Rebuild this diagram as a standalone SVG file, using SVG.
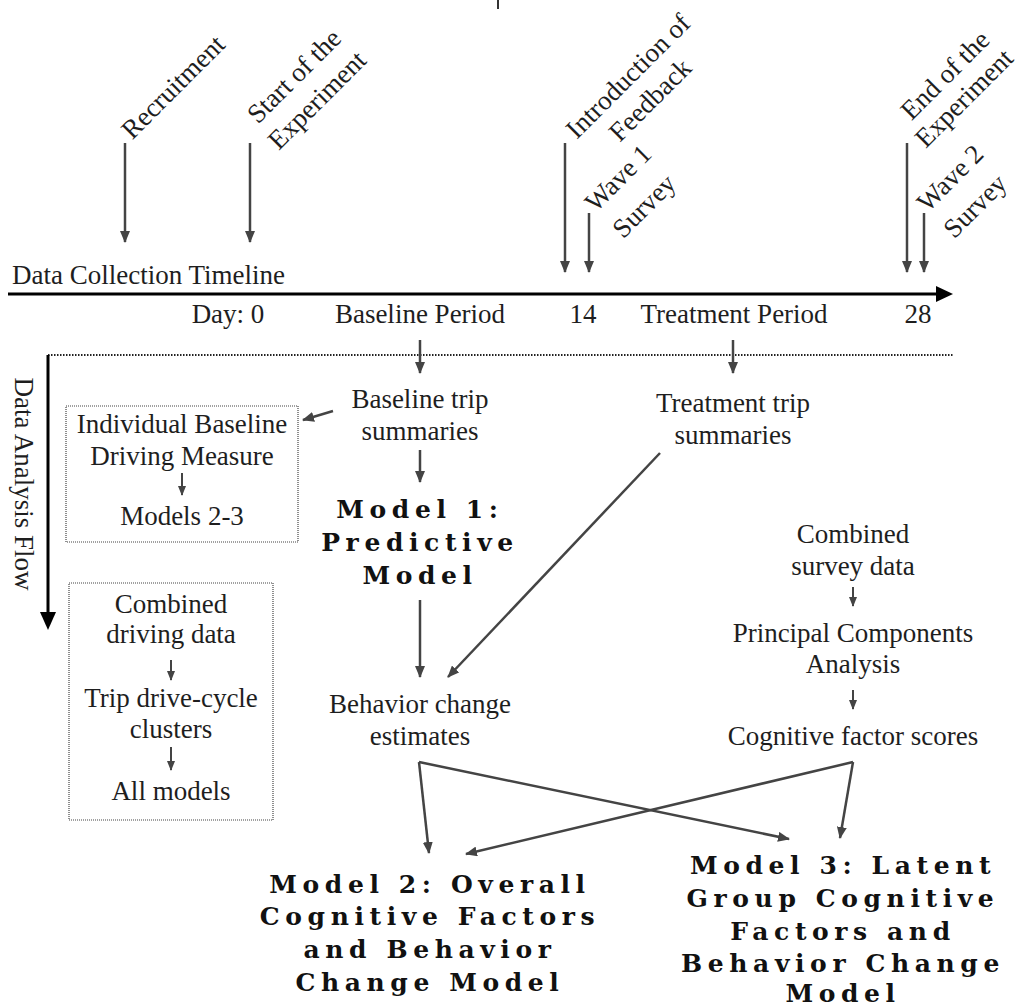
<svg xmlns="http://www.w3.org/2000/svg" width="1020" height="1008" viewBox="0 0 1020 1008">
<style>
text{font-family:"Liberation Serif","Times New Roman",serif;font-size:27px;fill:#1e1e1e}
.c{text-anchor:middle}
.b{font-family:"DejaVu Serif",serif;font-weight:bold;font-size:25px;letter-spacing:5.6px;text-anchor:middle;fill:#111}
.ar{stroke:#444;stroke-width:2.5;fill:none;marker-end:url(#ah)}
.sm{stroke:#444;stroke-width:2;fill:none;marker-end:url(#as)}
.box{fill:none;stroke:#444;stroke-width:1.2;stroke-dasharray:1 1}
</style>
<defs>
<marker id="ah" viewBox="0 0 12 10" markerWidth="12" markerHeight="10" refX="11" refY="5" orient="auto" markerUnits="userSpaceOnUse">
<path d="M0,0 L12,5 L0,10 z" fill="#444"/>
</marker>
<marker id="as" viewBox="0 0 10 8" markerWidth="10" markerHeight="8" refX="9" refY="4" orient="auto" markerUnits="userSpaceOnUse">
<path d="M0,0 L10,4 L0,8 z" fill="#444"/>
</marker>
</defs>
<rect width="1020" height="1008" fill="#fff"/>

<g id="connectors">
<line x1="498" y1="0" x2="498" y2="9" stroke="#333" stroke-width="2"/>
<!-- timeline axis -->
<line x1="8" y1="294" x2="938" y2="294" stroke="#000" stroke-width="3"/>
<polygon points="936,286 953,294 936,302" fill="#000"/>
<!-- event arrows -->
<line class="ar" x1="125" y1="143" x2="125" y2="242"/>
<line class="ar" x1="250" y1="143" x2="250" y2="242"/>
<line class="ar" x1="565" y1="143" x2="565" y2="272"/>
<line class="ar" x1="589" y1="213" x2="589" y2="272"/>
<line class="ar" x1="907" y1="143" x2="907" y2="272"/>
<line class="ar" x1="924" y1="213" x2="924" y2="272"/>
<!-- dotted separator and analysis flow arrow -->
<line x1="48" y1="355" x2="953" y2="355" stroke="#222" stroke-width="2" stroke-dasharray="1.5 1.5"/>
<line x1="48" y1="355" x2="48" y2="614" stroke="#000" stroke-width="3"/>
<polygon points="40,612 48,630 56,612" fill="#000"/>
<!-- period arrows -->
<line class="ar" x1="420" y1="340" x2="420" y2="373"/>
<line class="ar" x1="733" y1="340" x2="733" y2="373"/>
<!-- analysis flow -->
<line class="ar" x1="333" y1="411" x2="303" y2="420"/>
<line class="ar" x1="420" y1="450" x2="420" y2="482"/>
<line class="ar" x1="420" y1="600" x2="420" y2="677"/>
<line class="ar" x1="660" y1="453" x2="448" y2="677"/>
<line class="sm" x1="182" y1="473" x2="182" y2="495"/>
<line class="sm" x1="171" y1="660" x2="171" y2="680"/>
<line class="sm" x1="171" y1="747" x2="171" y2="770"/>
<line class="sm" x1="853" y1="587" x2="853" y2="606"/>
<line class="sm" x1="853" y1="690" x2="853" y2="709"/>
<line class="ar" x1="419" y1="762" x2="429" y2="853"/>
<line class="ar" x1="419" y1="762" x2="789" y2="839"/>
<line class="ar" x1="853" y1="762" x2="466" y2="854"/>
<line class="ar" x1="853" y1="762" x2="840" y2="838"/>
</g>

<g id="timeline-labels">
<text x="12" y="284">Data Collection Timeline</text>
<text class="c" x="228" y="323">Day: 0</text>
<text class="c" x="420" y="323">Baseline Period</text>
<text class="c" x="583" y="323">14</text>
<text class="c" x="734" y="323">Treatment Period</text>
<text class="c" x="918" y="323">28</text>
</g>

<g id="event-recruitment"><text class="c" transform="translate(173,87) rotate(-45)" y="9">Recruitment</text></g>
<g id="event-start">
<text class="c" transform="translate(294,76) rotate(-45)" y="9">Start of the</text>
<text class="c" transform="translate(317,100) rotate(-45)" y="9">Experiment</text>
</g>
<g id="event-feedback">
<text class="c" transform="translate(628,76) rotate(-45)" y="9">Introduction of</text>
<text class="c" transform="translate(650,100) rotate(-45)" y="9">Feedback</text>
</g>
<g id="event-wave1">
<text class="c" transform="translate(618,178) rotate(-45)" y="9">Wave 1</text>
<text class="c" transform="translate(644,206) rotate(-45)" y="9">Survey</text>
</g>
<g id="event-end">
<text class="c" transform="translate(945,75) rotate(-45)" y="9">End of the</text>
<text class="c" transform="translate(964,98) rotate(-45)" y="9">Experiment</text>
</g>
<g id="event-wave2">
<text class="c" transform="translate(950,178) rotate(-45)" y="9">Wave 2</text>
<text class="c" transform="translate(975,206) rotate(-45)" y="9">Survey</text>
</g>

<g id="analysis-flow-label"><text class="c" transform="translate(15,484) rotate(90)">Data Analysis Flow</text></g>

<g id="baseline-summaries">
<text class="c" x="420" y="408">Baseline trip</text>
<text class="c" x="420" y="440">summaries</text>
</g>
<g id="treatment-summaries">
<text class="c" x="733" y="412">Treatment trip</text>
<text class="c" x="733" y="444">summaries</text>
</g>

<g id="box-baseline-measure">
<rect class="box" x="66" y="406" width="232" height="136"/>
<text class="c" x="182" y="433">Individual Baseline</text>
<text class="c" x="182" y="465">Driving Measure</text>
<text class="c" x="182" y="525">Models 2-3</text>
</g>

<g id="box-clusters">
<rect class="box" x="69" y="583" width="204" height="237"/>
<text class="c" x="171" y="613">Combined</text>
<text class="c" x="171" y="643">driving data</text>
<text class="c" x="171" y="707">Trip drive-cycle</text>
<text class="c" x="171" y="738">clusters</text>
<text class="c" x="171" y="800">All models</text>
</g>

<g id="model1">
<text class="b" x="420" y="518">Model 1:</text>
<text class="b" x="420" y="551">Predictive</text>
<text class="b" x="420" y="584">Model</text>
</g>

<g id="behavior-change">
<text class="c" x="420" y="713">Behavior change</text>
<text class="c" x="420" y="745">estimates</text>
</g>

<g id="survey-data">
<text class="c" x="853" y="543">Combined</text>
<text class="c" x="853" y="575">survey data</text>
</g>
<g id="pca">
<text class="c" x="853" y="642">Principal Components</text>
<text class="c" x="853" y="673">Analysis</text>
</g>
<g id="cognitive-scores">
<text class="c" x="853" y="745">Cognitive factor scores</text>
</g>

<g id="model2">
<text class="b" x="430" y="893">Model 2: Overall</text>
<text class="b" x="430" y="925">Cognitive Factors</text>
<text class="b" x="430" y="958">and Behavior</text>
<text class="b" x="430" y="991">Change Model</text>
</g>

<g id="model3">
<text class="b" x="843" y="874">Model 3: Latent</text>
<text class="b" x="843" y="907">Group Cognitive</text>
<text class="b" x="843" y="940">Factors and</text>
<text class="b" x="843" y="972">Behavior Change</text>
<text class="b" x="843" y="1002">Model</text>
</g>
</svg>
